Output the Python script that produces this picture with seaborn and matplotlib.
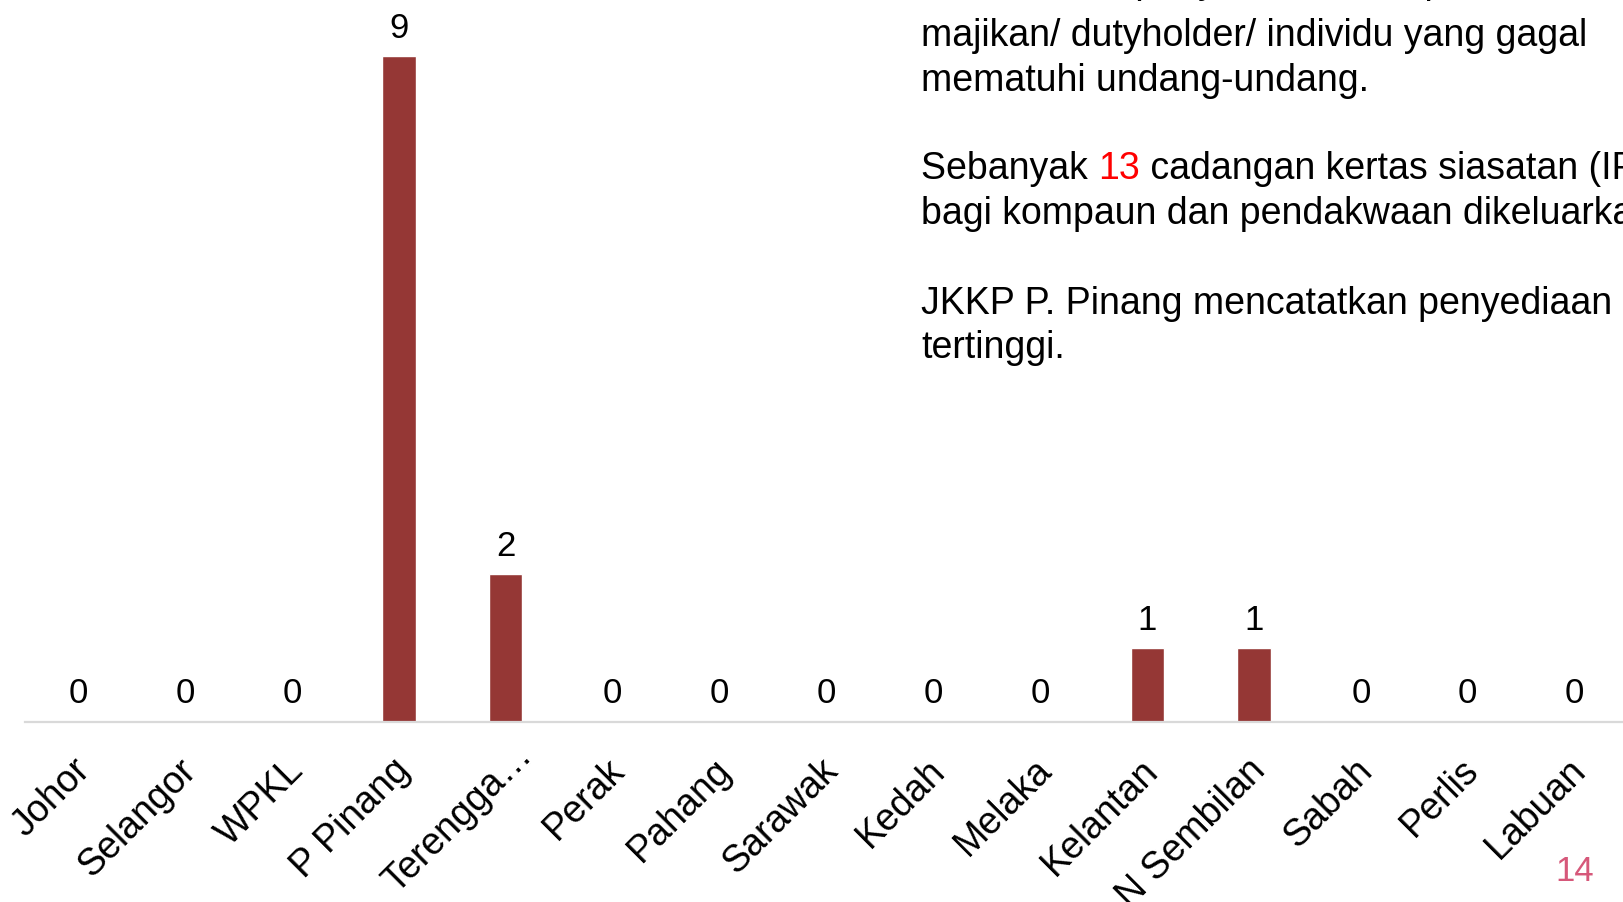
import matplotlib
matplotlib.use("Agg")
import matplotlib.pyplot as plt
import pandas as pd
import seaborn as sns

# Data
states = ["Johor", "Selangor", "WPKL", "P Pinang", "Terengga…", "Perak", "Pahang",
          "Sarawak", "Kedah", "Melaka", "Kelantan", "N Sembilan", "Sabah", "Perlis", "Labuan"]
ip_counts = [0, 0, 0, 9, 2, 0, 0, 0, 0, 0, 1, 1, 0, 0, 0]

notes_top = ["Ini termasuk penyediaan IP kepada",
             "majikan/ dutyholder/ individu yang gagal",
             "mematuhi undang-undang."]
note_ip_pre = "Sebanyak "
note_ip_num = "13"
note_ip_post = " cadangan kertas siasatan (IP)"
note_ip_line2 = "bagi kompaun dan pendakwaan dikeluarkan."
notes_bottom = ["JKKP P. Pinang mencatatkan penyediaan IP",
                "tertinggi."]
page_no = "14"

BAR = "#953735"
FONT = ["Liberation Sans", "DejaVu Sans"]
TXT = 27

sns.set_theme(style="white")
plt.rcParams["font.family"] = FONT
plt.rcParams["text.color"] = "black"

df = pd.DataFrame({"Negeri": states, "IP": ip_counts})

fig = plt.figure(figsize=(16.23, 9.03), dpi=100)
ax = fig.add_axes([25 / 1623, 180 / 903, 1603 / 1623, 666 / 903])

sns.barplot(data=df, x="Negeri", y="IP", color=BAR, saturation=1, width=0.31, ax=ax)
ax.set_xlim(-0.5, len(states) - 0.5)
ax.set_ylim(0, 9)

# value labels
for i, v in enumerate(ip_counts):
    ax.annotate(str(v), (i, v), xytext=(0, 9), textcoords="offset points",
                ha="center", va="bottom", fontsize=25, color="black",
                annotation_clip=False)

# rotated category labels (truncated ones sit a bit further up-right, like Excel)
ax.set_xticks(range(len(states)))
ax.set_xticklabels([])
for i, name in enumerate(states):
    dx, dy = (-5, -21) if not name.endswith("…") else (6, -10)
    ax.annotate(name, (i, 0), xycoords=("data", "axes fraction"),
                xytext=(dx, dy), textcoords="offset points",
                rotation=45, rotation_mode="anchor", ha="right", va="top",
                fontsize=TXT, color="black", annotation_clip=False)

ax.tick_params(axis="both", length=0)
ax.set_yticks([])
ax.set_xlabel("")
ax.set_ylabel("")
for side in ["top", "right", "left"]:
    ax.spines[side].set_visible(False)
ax.spines["bottom"].set_color("#D9D9D9")
ax.spines["bottom"].set_linewidth(1.6)

# text block on the right
x0 = 921 / 1623
line_h = 44.5 / 903
fig.text(x0, 1 - (-17) / 903, notes_top[0], fontsize=TXT, va="center", ha="left")
y = 1 - 36.5 / 903
for line in notes_top[1:]:
    fig.text(x0, y, line, fontsize=TXT, va="center", ha="left")
    y -= line_h

y_ip = 1 - 169 / 903
fig.canvas.draw()
renderer = fig.canvas.get_renderer()
t1 = fig.text(x0, y_ip, note_ip_pre, fontsize=TXT, va="center", ha="left")
bb = t1.get_window_extent(renderer)
x1 = bb.x1 / fig.bbox.width
t2 = fig.text(x1, y_ip, note_ip_num, fontsize=TXT, va="center", ha="left", color="#FF0000")
bb = t2.get_window_extent(renderer)
x2 = bb.x1 / fig.bbox.width
fig.text(x2, y_ip, note_ip_post, fontsize=TXT, va="center", ha="left")
fig.text(x0, y_ip - line_h, note_ip_line2, fontsize=TXT, va="center", ha="left")

y = 1 - 304 / 903
for line in notes_bottom:
    fig.text(x0, y, line, fontsize=TXT, va="center", ha="left")
    y -= line_h

fig.text(1575 / 1623, 1 - 872 / 903, page_no, fontsize=25, color="#D6587A",
         ha="center", va="center", stretch="condensed")

fig.savefig("out.png", dpi=100)
